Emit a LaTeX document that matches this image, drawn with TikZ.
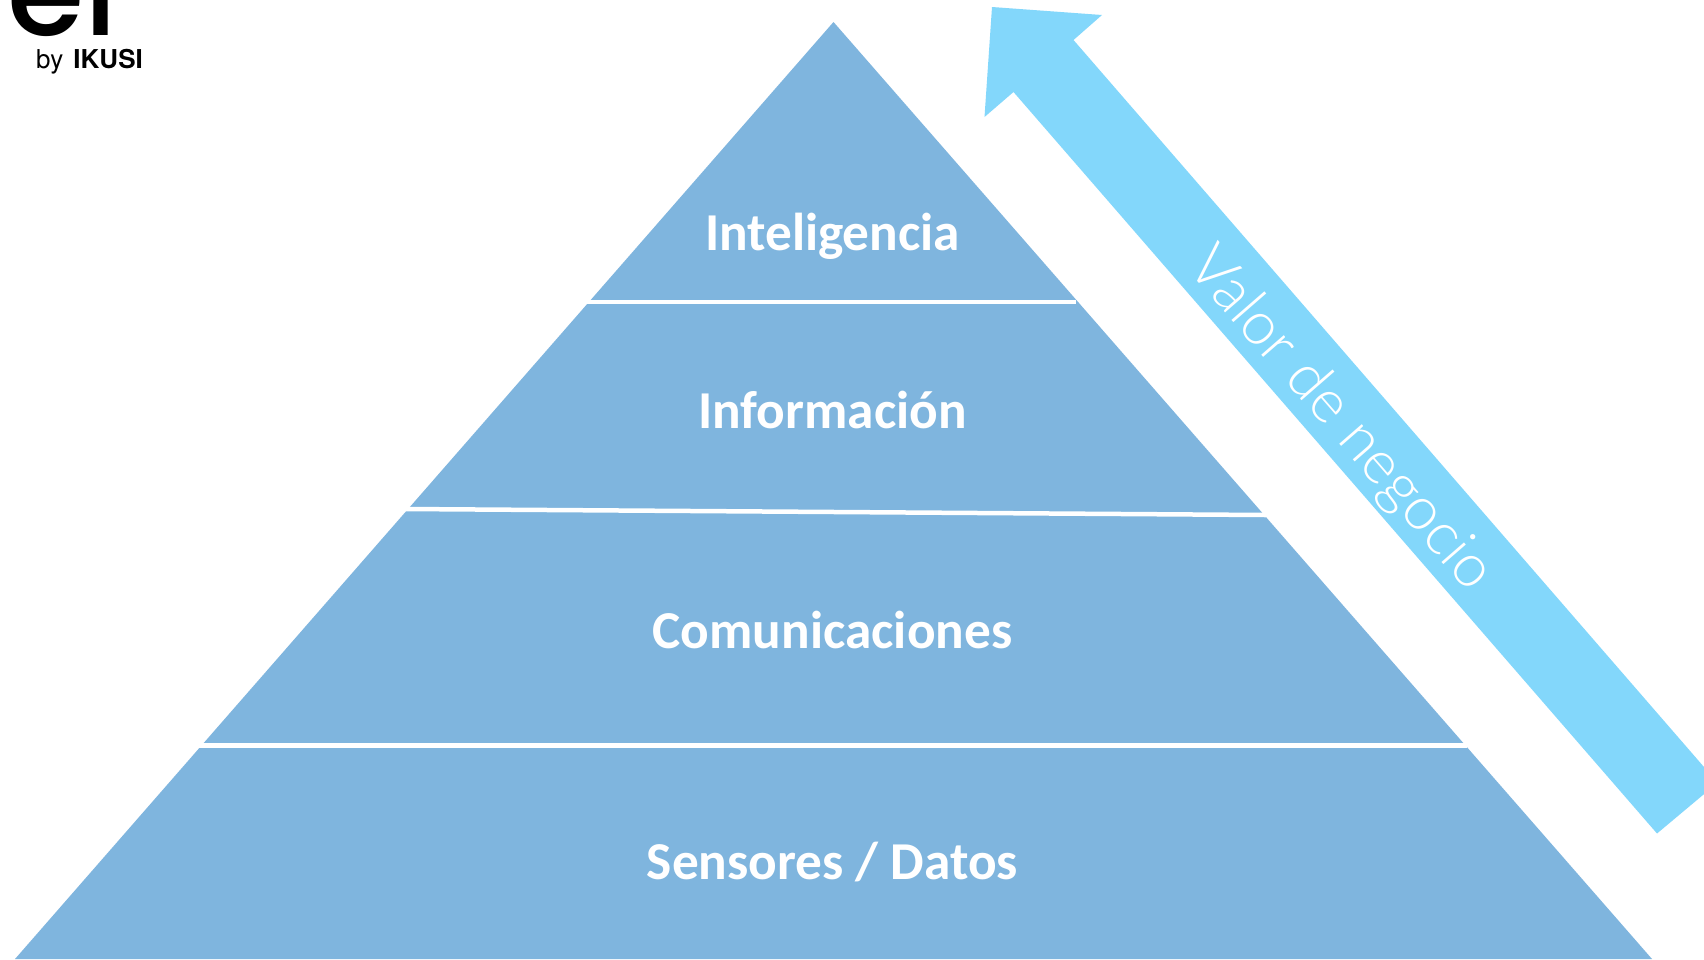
\documentclass[tikz,border=0pt]{standalone}
\usepackage{fontspec}
\usepackage{xcolor}
\usepackage{tikz}
\usetikzlibrary{positioning}
\setmainfont{Carlito}
\newfontfamily\logofont{Poppins Medium}
\newfontfamily\bylinefont{TeX Gyre Heros}
\newfontfamily\valuefont{Lato Light}
\definecolor{pyramidblue}{HTML}{7FB5DE}
\definecolor{arrowblue}{HTML}{83D7FB}

\begin{document}
\begin{tikzpicture}[
    x=1pt,
    y=-1pt,
    layerlabel/.style={
        text=white,
        font=\fontsize{53.3}{53.3}\selectfont\bfseries,
        text height=38pt,
        text depth=12pt,
        inner sep=0pt,
        text centered
    },
    divider/.style={
        draw=white,
        line width=4.5pt
    }
]

\useasboundingbox (0,0) rectangle (1704,959);
\clip (0,0) rectangle (1704,959);

\fill[white] (0,0) rectangle (1704,959);

\node[inner sep=0pt, anchor=base west, font=\logofont\fontsize{125}{125}\selectfont] (logo) at (7,35) {ei};
\node[inner sep=0pt, anchor=base west, font=\bylinefont\fontsize{26}{26}\selectfont] (byline) at (36,68) {by\hspace{3pt} \textbf{IKUSI}};

\fill[pyramidblue] (833.5,22) -- (1652,959) -- (15,959) -- cycle;

\coordinate (div1w) at (587,302);
\coordinate (div1e) at (1076,302);
\coordinate (div2w) at (405,509);
\coordinate (div2e) at (1266,515);
\coordinate (div3w) at (199,745.5);
\coordinate (div3e) at (1467,745.5);
\draw[divider] (div1w) -- (div1e);
\draw[divider] (div2w) -- (div2e);
\draw[divider] (div3w) -- (div3e);

\fill[arrowblue] (992,7) -- (1102,15) -- (1073.5,40) -- (1717.6,782.7) -- (1657,833.5) -- (1013.5,92) -- (984.5,117) -- cycle;

\node[layerlabel] (intel) at (832.5,237) {Inteligencia};
\node[layerlabel, below=128pt of intel] (info) {Información};
\node[layerlabel, below=170pt of info] (comms) {Comunicaciones};
\node[layerlabel, below=180pt of comms] (sensors) {Sensores / Datos};

\node[text=white, rotate=-49, inner sep=0pt, font=\valuefont\fontsize{60}{60}\selectfont] (value) at (1340,420) {Valor de negocio};

\end{tikzpicture}
\end{document}
